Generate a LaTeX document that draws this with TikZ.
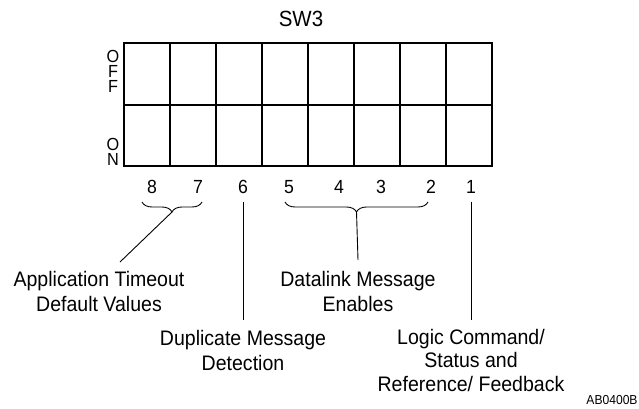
\documentclass[tikz,border=0pt]{standalone}
\usepackage{fontspec}
\setmainfont[FakeStretch=0.93]{Liberation Sans}
\usetikzlibrary{decorations.pathreplacing}

\begin{document}
\begin{tikzpicture}[x=1pt,y=-1pt]
      \tikzstyle{every node}=[inner sep=0pt,font=\fontsize{21}{25}\selectfont]
      \tikzstyle{stack}=[align=center,font=\fontsize{17.5}{15}\selectfont]
      \tikzstyle{posnum}=[font=\fontsize{19}{22}\selectfont]
      \tikzstyle{lbl}=[anchor=north,align=center]
      \tikzstyle{lead}=[line width=0.9pt]
      \tikzstyle{bracket}=[lead,decorate,decoration={brace,mirror,amplitude=10pt}]
      \useasboundingbox (0,0) rectangle (639,409);
      % switch body
      \draw[line width=1.2pt] (124,43) rectangle (492,166);
      \draw[line width=1.2pt] (124,105) -- (492,105);
      \foreach \x in {170,216,...,446} \draw[line width=1.2pt] (\x,43) -- (\x,166);
      \node[font=\fontsize{22}{26}\selectfont] (sw) at (301,19) {SW3};
      \node[stack,anchor=north] (off) at (113,50) {O\\F\\F};
      \node[stack,anchor=south] (on) at (113,166) {O\\N};
      % positions
      \node[posnum] (n8) at (152,187) {8};
      \node[posnum] (n7) at (198,187) {7};
      \node[posnum] (n6) at (243,187) {6};
      \node[posnum] (n5) at (289,187) {5};
      \node[posnum] (n4) at (339,187) {4};
      \node[posnum] (n3) at (381,187) {3};
      \node[posnum] (n2) at (431,187) {2};
      \node[posnum] (n1) at (471,187) {1};
      % labels
      \node[lbl] (app) at (99,271) {Application Timeout\\Default Values};
      \node[lbl] (dup) at (243,330) {Duplicate Message\\Detection};
      \node[lbl] (dl) at (358,271) {Datalink Message\\Enables};
      \node[lbl,font=\fontsize{21}{23.5}\selectfont] (logic) at (471,329) {Logic Command/\\Status and\\Reference/ Feedback};
      \node[font=\fontsize{13}{15}\selectfont] (fig) at (612,400) {AB0400B};
      % braces and leaders
      \coordinate (b87l) at (142,202);
      \coordinate (b87r) at (202,202);
      \coordinate (t87) at (172,212);
      \coordinate (b52l) at (285,202);
      \coordinate (b52r) at (428,202);
      \coordinate (t52) at (356.5,212);
      \coordinate (append) at (120,262);
      \draw[bracket] (b87l) -- (b87r);
      \draw[bracket] (b52l) -- (b52r);
      \draw[lead] (t87) -- (append);
      \draw[lead] (t52) -- ([yshift=11pt]dl.north);
      \draw[lead] ([yshift=-8pt]n6.south) -- ([yshift=10pt]dup.north);
      \draw[lead] ([yshift=-8pt]n1.south) -- ([yshift=9pt]logic.north);
\end{tikzpicture}
\end{document}
